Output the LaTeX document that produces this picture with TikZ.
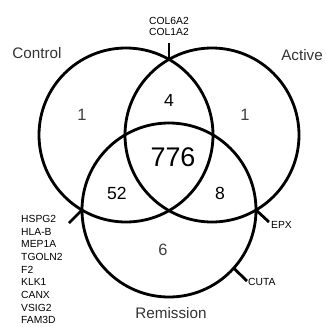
\documentclass[tikz,border=0pt]{standalone}
\usepackage{fontspec}
\setmainfont{Liberation Sans}
\begin{document}
\begin{tikzpicture}[x=0.03cm,y=-0.03cm,
  ring/.style={line width=2.4pt},
  tickline/.style={line width=2.4pt},
  setname/.style={font=\fontsize{13}{15}\selectfont,text=black!80},
  count/.style={font=\fontsize{15}{17}\selectfont},
  lonecount/.style={font=\fontsize{14}{16}\selectfont,text=black!75},
  genes/.style={font=\fontsize{8.8}{10.8}\selectfont,align=left,inner sep=0pt}]
\useasboundingbox (0,0) rectangle (325,327);
% set centres
\coordinate (control) at (126,135);
\coordinate (active) at (212,135);
\coordinate (remission) at (169,210);
\draw[ring] (control) circle[radius=87];
\draw[ring] (active) circle[radius=87];
\draw[ring] (remission) circle[radius=87];
% crossings and tick ends
\coordinate (ca) at (169,59.4);
\coordinate (cr) at (82,210);
\coordinate (ar) at (256,210);
\coordinate (rr) at (233.7,268.2);
\coordinate (caend) at (169,43);
\coordinate (crend) at (69,223);
\coordinate (arend) at (269,222);
\coordinate (rrend) at (247,281);
\draw[tickline] (ca) -- (caend);
\draw[tickline] (cr) -- (crend);
\draw[tickline] (ar) -- (arend);
\draw[tickline] (rr) -- (rrend);
% set names
\node[setname] (controlname) at (37,53) {Control};
\node[setname] (activename) at (302,55) {Active};
\node[setname] (remissionname) at (171,313) {Remission};
% counts
\node[lonecount] (onlycontrol) at (82,115) {1};
\node[lonecount] (onlyactive) at (245,115) {1};
\node[lonecount] (onlyremission) at (163,250) {6};
\node[count] (controlactive) at (169,100) {4};
\node[count] (controlremission) at (117,193) {52};
\node[count] (activeremission) at (220,193) {8};
\node[font=\fontsize{23}{26}\selectfont] (all) at (173,157) {776};
% gene lists
\node[genes,align=center,font=\fontsize{8.8}{9.4}\selectfont,anchor=south] (topgenes) at (169,36) {COL6A2\\COL1A2};
\node[genes,anchor=north west] (leftgenes) at (21,215) {HSPG2\\HLA-B\\MEP1A\\TGOLN2\\F2\\KLK1\\CANX\\VSIG2\\FAM3D};
\node[genes,anchor=west] (rightgenes) at (271,225) {EPX};
\node[genes,anchor=west] (bottomgenes) at (248,282) {CUTA};
\end{tikzpicture}
\end{document}
